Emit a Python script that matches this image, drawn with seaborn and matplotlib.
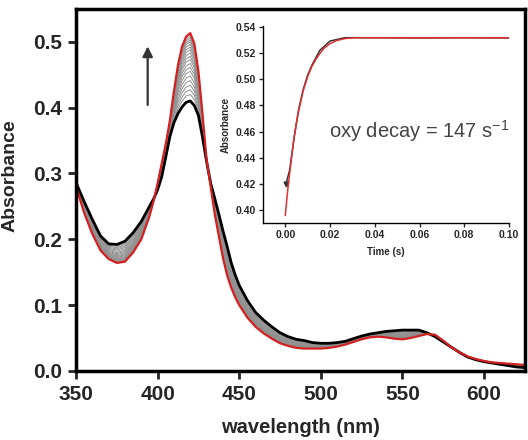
import numpy as np
import pandas as pd
import matplotlib
matplotlib.use("Agg")
import matplotlib.pyplot as plt
import seaborn as sns

# ---------------- data ----------------
wavelength = [350, 355, 360, 365, 370, 375, 380, 385, 390, 395,
              397.5, 400, 402.5, 405, 407.5, 410, 412.5, 415, 417.5, 420,
              422.5, 425, 427.5, 430, 432.5, 435, 437.5, 440, 442.5, 445,
              447.5, 450, 455, 460, 465, 470, 475, 480, 485, 490,
              495, 500, 505, 510, 515, 520, 525, 530, 535, 540,
              545, 550, 555, 560, 565, 570, 575, 580, 585, 590,
              595, 600, 605, 610, 615, 620, 625]

black_abs = [0.286, 0.257, 0.230, 0.205, 0.193, 0.192, 0.197, 0.210, 0.227, 0.250,
             0.261, 0.275, 0.295, 0.325, 0.356, 0.377, 0.391, 0.401, 0.408, 0.410,
             0.403, 0.388, 0.355, 0.318, 0.285, 0.262, 0.238, 0.213, 0.190, 0.165,
             0.146, 0.130, 0.107, 0.089, 0.077, 0.067, 0.058, 0.052, 0.048, 0.046,
             0.043, 0.042, 0.042, 0.043, 0.045, 0.049, 0.053, 0.056, 0.058, 0.060,
             0.061, 0.062, 0.062, 0.062, 0.058, 0.052, 0.044, 0.036, 0.028, 0.021,
             0.017, 0.014, 0.012, 0.010, 0.008, 0.006, 0.005]

red_abs = [0.280, 0.240, 0.208, 0.183, 0.170, 0.164, 0.166, 0.180, 0.200, 0.235,
           0.258, 0.285, 0.315, 0.345, 0.380, 0.425, 0.465, 0.493, 0.508, 0.513,
           0.497, 0.455, 0.390, 0.321, 0.280, 0.238, 0.205, 0.172, 0.146, 0.127,
           0.112, 0.100, 0.081, 0.067, 0.057, 0.049, 0.042, 0.038, 0.035, 0.034,
           0.034, 0.034, 0.035, 0.037, 0.040, 0.044, 0.048, 0.051, 0.052, 0.051,
           0.049, 0.048, 0.050, 0.053, 0.056, 0.055, 0.046, 0.036, 0.028, 0.022,
           0.018, 0.015, 0.013, 0.012, 0.011, 0.010, 0.009]

# Soret-peak heights of the intermediate (gray) spectra
gray_peaks = [0.420, 0.427, 0.434, 0.441, 0.448, 0.455, 0.461, 0.467, 0.473,
              0.478, 0.483, 0.488, 0.492, 0.496, 0.500, 0.503, 0.506, 0.509]

# inset: kinetic trace (observed) and fit
trace_time = [0.0003, 0.002, 0.004, 0.006, 0.008, 0.010, 0.012, 0.0155, 0.020,
              0.0264, 0.030, 0.040, 0.060, 0.080, 0.100]
trace_abs = [0.420, 0.431, 0.456, 0.477, 0.492, 0.503, 0.511, 0.522, 0.529,
             0.5315, 0.5316, 0.5315, 0.5314, 0.5315, 0.5314]

fit_time = [0.000, 0.001, 0.002, 0.003, 0.004, 0.005, 0.006, 0.008, 0.010, 0.012,
            0.014, 0.017, 0.020, 0.023, 0.027, 0.031, 0.040, 0.060, 0.080, 0.100]
fit_abs = [0.396, 0.414, 0.429, 0.443, 0.456, 0.467, 0.476, 0.491, 0.502, 0.510,
           0.516, 0.523, 0.527, 0.5294, 0.531, 0.5315, 0.5315, 0.5315, 0.5315, 0.5315]

xticks_main = [350, 400, 450, 500, 550, 600]
yticks_main = [0.0, 0.1, 0.2, 0.3, 0.4, 0.5]
xticks_in = [0.00, 0.02, 0.04, 0.06, 0.08, 0.10]
yticks_in = [0.40, 0.42, 0.44, 0.46, 0.48, 0.50, 0.52, 0.54]

# ---------------- style ----------------
sns.set_theme(style="ticks")
plt.rcParams['font.family'] = ['Liberation Sans', 'DejaVu Sans']
plt.rcParams['mathtext.default'] = 'regular'

fig = plt.figure(figsize=(5.28, 4.40), dpi=100)
ax = fig.add_axes([0.144, 0.157, 0.850, 0.823])

wl = np.array(wavelength, dtype=float)
b = np.array(black_abs)
r = np.array(red_abs)
bpk, rpk = b.max(), r.max()

rows = []
for i, p in enumerate(gray_peaks):
    f = (p - bpk) / (rpk - bpk)
    spec = b + f * (r - b)
    rows.append(pd.DataFrame({"wavelength": wl, "abs": spec, "scan": i}))
gray_df = pd.concat(rows, ignore_index=True)

sns.lineplot(data=gray_df, x="wavelength", y="abs", units="scan", estimator=None,
             color="#909090", lw=0.7, ax=ax, sort=False)
sns.lineplot(x=wl, y=b, color="black", lw=2.0, ax=ax, sort=False)
sns.lineplot(x=wl, y=r, color="#d42020", lw=1.6, ax=ax, sort=False)

ax.set_xlim(350, 625)
ax.set_ylim(0, 0.55)
ax.set_xticks(xticks_main)
ax.set_yticks(yticks_main)
ax.set_yticklabels([f"{v:.1f}" for v in yticks_main])
ax.tick_params(direction="out", length=6, width=2, labelsize=15, pad=4)
for lab in ax.get_xticklabels() + ax.get_yticklabels():
    lab.set_fontweight("bold")
for s in ax.spines.values():
    s.set_linewidth(2.5)
    s.set_color("black")
ax.set_xlabel("wavelength (nm)", fontsize=14.5, fontweight="bold", labelpad=10)
ax.set_ylabel("Absorbance", fontsize=14, fontweight="bold")
ax.yaxis.set_label_coords(-0.128, 0.539)

ax.annotate("", xy=(393.9, 0.493), xytext=(393.9, 0.404),
            arrowprops=dict(arrowstyle="-|>", color="#333333", lw=1.6,
                            mutation_scale=15, shrinkA=0, shrinkB=0))

# ---------------- inset ----------------
ax_in = fig.add_axes([0.4975, 0.493, 0.4665, 0.448], facecolor="none")
sns.lineplot(x=trace_time, y=trace_abs, color="#333333", lw=1.1, ax=ax_in, sort=False)
ax_in.plot(trace_time[:1], trace_abs[:1], marker="v", ms=3.5, color="#333333", ls="none")
sns.lineplot(x=fit_time, y=fit_abs, color="#e03030", lw=1.1, ax=ax_in, sort=False)
ax_in.set_xlim(-0.0101, 0.1)
ax_in.set_ylim(0.3903, 0.5405)
ax_in.set_xticks(xticks_in)
ax_in.set_xticklabels([f"{v:.2f}" for v in xticks_in])
ax_in.set_yticks(yticks_in)
ax_in.set_yticklabels([f"{v:.2f}" for v in yticks_in])
ax_in.tick_params(direction="out", length=3, width=1, labelsize=7.5, pad=2)
for lab in ax_in.get_xticklabels() + ax_in.get_yticklabels():
    lab.set_fontweight("bold")
ax_in.spines["top"].set_visible(False)
ax_in.spines["right"].set_visible(False)
for side in ["left", "bottom"]:
    ax_in.spines[side].set_linewidth(1.0)
    ax_in.spines[side].set_color("black")
ax_in.set_xlabel("Time (s)", fontsize=7, fontweight="bold", labelpad=5)
ax_in.set_ylabel("Absorbance", fontsize=7, fontweight="bold", labelpad=3)
ax_in.text(0.0195, 0.455, "oxy decay = 147 s$^{-1}$", fontsize=14.5, color="#444444")

fig.savefig("out.png", dpi=100)
